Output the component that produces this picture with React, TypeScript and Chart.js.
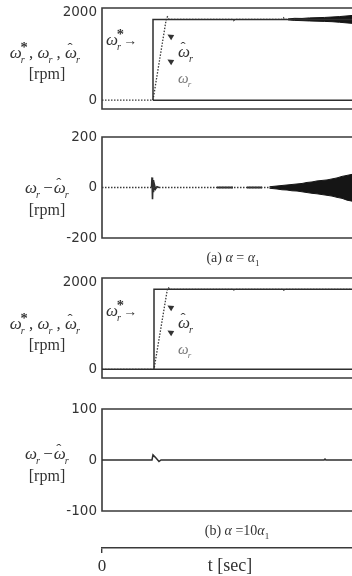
import React, { useEffect, useRef } from "react";
import { Chart, registerables } from "chart.js";
Chart.register(...registerables);

// ---------- data ----------
const T_MIN = 0;
const T_MAX = 5;

// (a) alpha = alpha1 : speeds
const aRefT = [1.02, 1.02, 5];
const aRefV = [0, 1840, 1840];
const aBaseT = [1.02, 5];
const aBaseV = [0, 0];
const aEstT = [0, 1.02, 1.29, 1.31, 1.34, 2.6, 2.63, 2.66, 3.6, 3.63, 3.66, 3.75];
const aEstV = [0, 0, 1880, 1900, 1840, 1840, 1810, 1840, 1840, 1880, 1840, 1840];
const aBandT = [3.72, 3.85, 4.0, 4.15, 4.3, 4.45, 4.6, 4.75, 4.9, 5];
const aBandHi = [1850, 1865, 1862, 1875, 1880, 1885, 1895, 1905, 1920, 1930];
const aBandLo = [1830, 1818, 1812, 1805, 1800, 1795, 1788, 1775, 1760, 1750];

// (a) alpha = alpha1 : speed error
const bErrT = [0, 3.4];
const bErrV = [0, 0];
const bSpikeT = [0.99, 1.0, 1.01, 1.02, 1.03, 1.05, 1.07, 1.1, 1.14];
const bSpikeV = [0, 40, -46, 30, -18, 10, -6, 3, 0];
const bBurstT = [2.3, 2.62, 2.63, 2.9, 3.2];
const bBurstV = [0, 0, null, 0, 0];
const bBandT = [3.35, 3.5, 3.6, 3.7, 3.8, 3.9, 4.0, 4.1, 4.2, 4.3, 4.4, 4.5, 4.6, 4.7, 4.8, 4.9, 5.0];
const bBandHi = [3, 6, 8, 10, 12, 14, 16, 20, 22, 26, 28, 30, 34, 38, 44, 48, 52];
const bBandLo = [-3, -6, -9, -10, -13, -14, -17, -20, -23, -25, -28, -31, -34, -39, -43, -50, -54];

// (b) alpha = 10 alpha1 : speeds
const cRefT = [1.04, 1.04, 5];
const cRefV = [0, 1840, 1840];
const cBaseT = [0, 5];
const cBaseV = [0, 0];
const cEstT = [0, 1.04, 1.31, 1.33, 1.36, 2.6, 2.62, 2.66, 3.6, 3.62, 3.66, 5];
const cEstV = [0, 0, 1860, 1875, 1840, 1840, 1815, 1840, 1840, 1810, 1840, 1840];

// (b) alpha = 10 alpha1 : speed error
const dErrT = [0, 1.0, 1.02, 1.08, 1.14, 1.18, 4.44, 4.46, 4.48, 5];
const dErrV = [0, 0, 10, 4, -3, 0, 0, 2, 0, 0];

const speedTicks = [0, 2000];
const errTicksA = [-200, 0, 200];
const errTicksB = [-100, 0, 100];
const timeTicks = [0];

// ---------- helpers ----------
const INK = "#2e2e2e";
const xy = (ts: number[], vs: (number | null)[]) => ts.map((t, i) => ({ x: t, y: vs[i] }));

const solid = (ts: number[], vs: (number | null)[], w = 1.5) => ({
  data: xy(ts, vs), borderColor: INK, borderWidth: w, fill: false, pointRadius: 0, spanGaps: false,
});
const dotted = (ts: number[], vs: number[]) => ({
  data: xy(ts, vs), borderColor: "#3a3a3a", borderWidth: 1.3, borderDash: [1.5, 1.5], fill: false, pointRadius: 0,
});
const bandPair = (ts: number[], hi: number[], lo: number[]) => [
  { data: xy(ts, hi), borderColor: "#151515", borderWidth: 1, fill: false, pointRadius: 0 },
  { data: xy(ts, lo), borderColor: "#151515", borderWidth: 1, fill: "-1", backgroundColor: "#151515", pointRadius: 0 },
];

const framePlugin = {
  id: "frame",
  beforeDatasetsDraw(chart: any) {
    const { ctx, chartArea } = chart;
    const { left, right, top, bottom } = chartArea;
    ctx.save();
    ctx.strokeStyle = "#3a3a3a";
    ctx.lineWidth = 1.6;
    ctx.beginPath();
    ctx.moveTo(right, top);
    ctx.lineTo(left, top);
    ctx.lineTo(left, bottom);
    ctx.lineTo(right, bottom);
    ctx.stroke();
    ctx.restore();
  },
};

const W = 352;
const H = 576;

function Panel({ top, bottom, yMin, yMax, ticks, build }: any) {
  const ref = useRef<HTMLCanvasElement>(null);
  useEffect(() => {
    const chart = new Chart(ref.current as HTMLCanvasElement, {
      type: "line",
      data: { datasets: build() },
      options: {
        animation: false,
        responsive: false,
        maintainAspectRatio: false,
        events: [],
        layout: { padding: { left: 0, right: 0, top, bottom: H - bottom } },
        plugins: { legend: { display: false }, tooltip: { enabled: false } },
        elements: { line: { tension: 0 }, point: { radius: 0 } },
        scales: {
          x: { type: "linear", min: T_MIN, max: T_MAX, display: false },
          y: {
            type: "linear",
            min: yMin,
            max: yMax,
            afterBuildTicks: (s: any) => { s.ticks = ticks.map((v: number) => ({ value: v })); },
            afterFit: (s: any) => { s.width = 102; s.paddingTop = 0; s.paddingBottom = 0; },
            grid: { display: false, drawTicks: false },
            border: { display: false },
            ticks: {
              padding: 5,
              color: "#333",
              font: { family: "DejaVu Sans", size: 13.5 },
              callback: (v: any) => String(v),
            },
          },
        },
      } as any,
      plugins: [framePlugin],
    });
    return () => chart.destroy();
  }, []);
  return <canvas ref={ref} width={W} height={H} style={{ position: "absolute", left: 0, top: 0 }} />;
}

function TimeAxis() {
  const ref = useRef<HTMLCanvasElement>(null);
  useEffect(() => {
    const chart = new Chart(ref.current as HTMLCanvasElement, {
      type: "line",
      data: { datasets: [] },
      options: {
        animation: false,
        responsive: false,
        maintainAspectRatio: false,
        events: [],
        layout: { padding: { left: 102, right: 0, top: 540, bottom: 0 } },
        plugins: { legend: { display: false }, tooltip: { enabled: false } },
        scales: {
          x: {
            type: "linear",
            min: T_MIN,
            max: T_MAX,
            afterBuildTicks: (s: any) => { s.ticks = timeTicks.map((v) => ({ value: v })); },
            afterFit: (s: any) => { s.height = 28; s.paddingLeft = 0; s.paddingRight = 0; },
            grid: { display: true, drawOnChartArea: false, drawTicks: true, tickLength: 5, color: "#3a3a3a", lineWidth: 1.4 },
            border: { display: true, color: "#3a3a3a", width: 1.6 },
            ticks: { padding: 3, color: "#333", maxRotation: 0, font: { family: "Liberation Serif", size: 17 }, callback: (v: any) => String(v) },
          },
          y: { display: false, min: 0, max: 1 },
        },
      } as any,
    });
    return () => chart.destroy();
  }, []);
  return <canvas ref={ref} width={W} height={H} style={{ position: "absolute", left: 0, top: 0 }} />;
}

function Om({ hat = false, star = false }: { hat?: boolean; star?: boolean }) {
  return (
    <span style={{ position: "relative", display: "inline-block", paddingRight: "0.42em" }}>
      <i>ω</i>
      {hat && (
        <span style={{ position: "absolute", left: "0.16em", top: "-0.36em", fontSize: "0.9em" }}>ˆ</span>
      )}
      {star && (
        <span style={{ position: "absolute", left: "0.74em", top: "-0.42em", fontSize: "0.85em", fontWeight: "bold" }}>*</span>
      )}
      <i style={{ position: "absolute", left: "1.08em", top: "0.72em", fontSize: "0.6em" }}>r</i>
    </span>
  );
}

function Txt({ x, yc, w, size, children, align = "center", style = {} }: any) {
  const lh = Math.round(size * 1.2);
  return (
    <div
      style={{
        position: "absolute",
        left: x,
        top: yc - lh / 2,
        width: w,
        textAlign: align,
        fontSize: size,
        lineHeight: `${lh}px`,
        fontFamily: '"Liberation Serif", "DejaVu Serif", serif',
        color: "#333",
        whiteSpace: "nowrap",
        ...style,
      }}
    >
      {children}
    </div>
  );
}

function Head({ x, y }: { x: number; y: number }) {
  return (
    <div
      style={{
        position: "absolute",
        left: x - 4,
        top: y - 5,
        width: 8,
        height: 10,
        lineHeight: "10px",
        fontSize: 8,
        textAlign: "center",
        color: "#333",
        fontFamily: "DejaVu Sans",
        transform: "rotate(-150deg)",
      }}
    >
      ▶
    </div>
  );
}

function SpeedLabels({ dy }: { dy: number }) {
  return (
    <>
      <Txt x={0} yc={53 + dy} w={94} size={17}>
        <Om star />, <Om />, <Om hat />
      </Txt>
      <Txt x={0} yc={73 + dy} w={94} size={16}>[rpm]</Txt>
      <Txt x={106} yc={40 + dy} w={60} size={17} align="left">
        <Om star />
        <span style={{ fontSize: 14, position: "relative", left: -2 }}>→</span>
      </Txt>
      <Head x={170} y={36 + dy} />
      <Head x={170} y={61 + dy} />
      <Txt x={178} yc={52 + dy} w={30} size={17} align="left">
        <Om hat />
      </Txt>
      <Txt x={178} yc={78 + dy} w={30} size={15} align="left" style={{ color: "#777" }}>
        <Om />
      </Txt>
    </>
  );
}

function ErrLabels({ yc }: { yc: number }) {
  return (
    <>
      <Txt x={2} yc={yc} w={94} size={17}>
        <Om />
        <span style={{ marginLeft: -1, marginRight: 1 }}>−</span>
        <Om hat />
      </Txt>
      <Txt x={0} yc={yc + 21} w={94} size={16}>[rpm]</Txt>
    </>
  );
}

export default function App() {
  useEffect(() => {
    document.body.style.margin = "0";
  }, []);
  return (
    <div style={{ position: "absolute", left: 0, top: 0, width: W, height: H, background: "#fff", overflow: "hidden" }}>
      <Panel
        top={8}
        bottom={109}
        yMin={-200}
        yMax={2100}
        ticks={speedTicks}
        build={() => [
          solid(aBaseT, aBaseV),
          solid(aRefT, aRefV),
          dotted(aEstT, aEstV),
          ...bandPair(aBandT, aBandHi, aBandLo),
        ]}
      />
      <Panel
        top={137}
        bottom={238}
        yMin={-200}
        yMax={200}
        ticks={errTicksA}
        build={() => [
          dotted(bErrT, bErrV),
          solid(bSpikeT, bSpikeV, 1.6),
          solid(bBurstT, bBurstV, 2),
          ...bandPair(bBandT, bBandHi, bBandLo),
        ]}
      />
      <Panel
        top={278}
        bottom={378}
        yMin={-200}
        yMax={2100}
        ticks={speedTicks}
        build={() => [solid(cBaseT, cBaseV), solid(cRefT, cRefV), dotted(cEstT, cEstV)]}
      />
      <Panel
        top={409}
        bottom={511}
        yMin={-100}
        yMax={100}
        ticks={errTicksB}
        build={() => [solid(dErrT, dErrV, 1.5)]}
      />
      <TimeAxis />

      <SpeedLabels dy={0} />
      <ErrLabels yc={188} />
      <Txt x={183} yc={257} w={100} size={14}>
        (a) <i>α</i> = <i>α</i><sub style={{ fontSize: 9 }}>1</sub>
      </Txt>

      <SpeedLabels dy={271} />
      <ErrLabels yc={454} />
      <Txt x={187} yc={530} w={100} size={14}>
        (b) <i>α</i> =10<i>α</i><sub style={{ fontSize: 9 }}>1</sub>
      </Txt>

      <Txt x={190} yc={565} w={80} size={18}>t [sec]</Txt>
    </div>
  );
}
